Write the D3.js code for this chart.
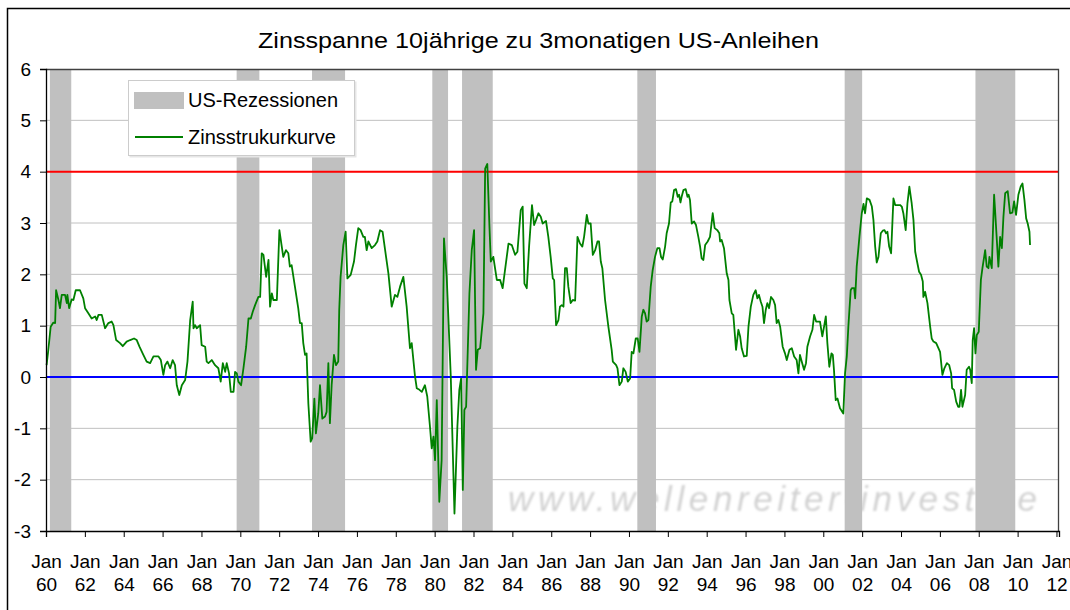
<!DOCTYPE html>
<meta charset="utf-8">
<html>
<head>
<script src="https://d3js.org/d3.v7.min.js"></script>
<style>
  body { margin: 0; background: #fff; }
  svg text { font-family: Arial, "Liberation Sans", sans-serif; fill: #000; }
</style>
</head>
<body>
<div id="chart"></div>
<script>

// ---- data ----
var title = "Zinsspanne 10jährige zu 3monatigen US-Anleihen";

// decimal years of each reading
var years = [
  1960.03,1960.12,1960.24,1960.38,1960.47,1960.52,1960.64,1960.72,1960.81,1960.98,1961.07,1961.10,1961.19,1961.32,1961.41,1961.53,1961.75,1961.92,
  1962.01,1962.18,1962.35,1962.53,1962.61,1962.70,1962.87,1963.04,1963.21,1963.38,1963.47,1963.61,1963.81,1963.95,1964.15,1964.33,1964.53,1964.67,1964.81,
  1965.01,1965.18,1965.36,1965.53,1965.79,1965.91,1966.04,1966.13,1966.25,1966.39,1966.52,1966.64,1966.73,1966.86,1966.99,1967.16,1967.28,1967.42,1967.55,
  1967.59,1967.67,1967.76,1967.93,1968.01,1968.19,1968.27,1968.36,1968.53,1968.70,1968.87,1968.99,1969.10,1969.22,1969.30,1969.42,1969.51,1969.65,1969.73,
  1969.82,1969.90,1970.04,1970.16,1970.30,1970.42,1970.54,1970.64,1970.76,1970.93,1971.02,1971.10,1971.19,1971.33,1971.45,1971.53,1971.62,1971.70,1971.88,
  1972.01,1972.21,1972.35,1972.47,1972.55,1972.64,1972.81,1972.98,1973.07,1973.16,1973.24,1973.33,1973.41,1973.50,1973.62,1973.70,1973.81,1973.89,
  1974.01,1974.10,1974.22,1974.36,1974.44,1974.53,1974.61,1974.70,1974.82,1974.92,1975.04,1975.09,1975.16,1975.30,1975.42,1975.51,1975.68,1975.85,1975.95,
  1976.07,1976.19,1976.33,1976.41,1976.50,1976.59,1976.76,1976.93,1977.05,1977.19,1977.32,1977.50,1977.62,1977.79,1977.96,1978.08,1978.22,1978.39,1978.56,
  1978.73,1978.82,1978.99,1979.08,1979.22,1979.34,1979.50,1979.62,1979.76,1979.85,1979.94,1980.02,1980.11,1980.24,1980.36,1980.48,1980.62,1980.83,
  1981.02,1981.17,1981.27,1981.36,1981.45,1981.53,1981.62,1981.79,1981.91,1982.03,1982.13,1982.22,1982.34,1982.51,1982.60,1982.71,1982.82,1982.89,
  1983.02,1983.20,1983.37,1983.50,1983.80,1983.97,1984.14,1984.26,1984.43,1984.53,1984.62,1984.74,1984.86,1985.01,1985.12,1985.22,1985.34,1985.46,
  1985.56,1985.73,1985.85,1985.97,1986.08,1986.15,1986.25,1986.37,1986.45,1986.54,1986.63,1986.71,1986.80,1986.88,1987.00,1987.11,1987.23,1987.35,
  1987.48,1987.60,1987.69,1987.83,1987.91,1988.03,1988.14,1988.26,1988.38,1988.46,1988.55,1988.63,1988.77,1988.94,1989.11,1989.17,1989.34,1989.41,
  1989.51,1989.63,1989.71,1989.83,1989.94,1990.06,1990.14,1990.23,1990.35,1990.45,1990.54,1990.66,1990.74,1990.83,1990.91,1991.00,1991.12,1991.22,
  1991.34,1991.46,1991.57,1991.65,1991.74,1991.86,1991.94,1992.06,1992.15,1992.23,1992.32,1992.42,1992.51,1992.58,1992.65,1992.71,1992.80,1992.92,
  1993.01,1993.07,1993.14,1993.23,1993.35,1993.45,1993.57,1993.66,1993.74,1993.83,1993.92,1994.05,1994.17,1994.31,1994.41,1994.55,1994.65,1994.69,
  1994.77,1994.89,1995.03,1995.12,1995.17,1995.29,1995.37,1995.51,1995.63,1995.72,1995.80,1995.92,1996.06,1996.15,1996.27,1996.40,1996.52,1996.61,
  1996.69,1996.78,1996.87,1996.95,1997.04,1997.12,1997.21,1997.31,1997.43,1997.52,1997.60,1997.69,1997.78,1997.91,1998.03,1998.12,1998.26,1998.38,
  1998.50,1998.63,1998.72,1998.80,1998.89,1999.01,1999.11,1999.18,1999.32,1999.44,1999.53,1999.63,1999.83,1999.95,2000.04,2000.13,2000.21,2000.31,
  2000.42,2000.49,2000.55,2000.64,2000.73,2000.86,2001.03,2001.12,2001.21,2001.29,2001.41,2001.47,2001.59,2001.64,2001.72,2001.86,2001.98,2002.07,
  2002.15,2002.24,2002.38,2002.50,2002.58,2002.67,2002.75,2002.84,2002.96,2003.06,2003.15,2003.23,2003.30,2003.39,2003.49,2003.61,2003.70,2003.82,
  2003.95,2004.04,2004.12,2004.24,2004.33,2004.43,2004.55,2004.64,2004.73,2004.81,2004.93,2005.03,2005.12,2005.15,2005.24,2005.36,2005.50,2005.58,
  2005.67,2005.81,2005.89,2006.01,2006.13,2006.23,2006.36,2006.48,2006.58,2006.63,2006.73,2006.84,2006.94,2007.01,2007.09,2007.16,2007.30,2007.38,
  2007.50,2007.56,2007.64,2007.69,2007.76,2007.83,2007.90,2008.00,2008.11,2008.19,2008.33,2008.41,2008.50,2008.55,2008.67,2008.79,2008.84,2008.93,
  2009.01,2009.10,2009.19,2009.27,2009.36,2009.49,2009.61,2009.73,2009.82,2009.92,2010.04,2010.16,2010.25,2010.35,2010.44,2010.52,2010.61,2010.64
];

// spread 10y minus 3m, percentage points
var spread = [
  0.23,0.53,0.98,1.06,1.05,1.69,1.50,1.34,1.60,1.60,1.44,1.60,1.34,1.51,1.50,1.69,1.69,1.53,
  1.34,1.24,1.14,1.18,1.11,1.21,1.21,0.95,1.05,1.08,1.01,0.72,0.66,0.60,0.69,0.72,0.75,0.72,0.59,
  0.43,0.30,0.27,0.40,0.40,0.33,0.04,0.23,0.30,0.17,0.33,0.23,-0.16,-0.35,-0.16,-0.06,0.30,1.11,1.47,
  0.95,1.01,0.95,1.01,0.62,0.59,0.30,0.27,0.33,0.23,0.17,-0.09,0.27,0.10,0.27,0.07,-0.29,-0.29,0.10,
  0.07,-0.09,-0.16,0.17,0.59,1.14,1.14,1.27,1.40,1.56,1.56,2.41,2.38,1.95,2.28,1.37,1.63,1.50,1.50,
  2.86,2.34,2.47,2.41,2.15,2.18,1.76,1.34,1.05,1.05,0.66,0.43,0.46,-0.51,-1.26,-1.19,-0.42,-1.10,
  -0.71,-0.16,-0.81,-0.77,-0.68,0.27,-0.90,-0.16,0.43,0.23,0.30,1.31,1.95,2.57,2.83,1.92,1.99,2.25,2.57,
  2.90,2.86,2.73,2.73,2.47,2.64,2.51,2.57,2.64,2.86,2.83,2.34,2.02,1.37,1.60,1.56,1.76,1.95,1.37,
  0.56,0.66,0.01,-0.22,-0.25,-0.29,-0.16,-0.38,-0.97,-1.39,-1.16,-1.62,-0.45,-2.43,-1.62,2.70,1.95,0.01,
  -2.66,-0.97,-0.25,-0.03,-2.20,-0.64,-0.58,1.63,2.47,2.86,0.14,0.53,0.56,1.24,4.06,4.15,2.93,2.25,
  2.34,1.89,1.89,1.73,2.60,2.57,2.38,2.44,3.25,3.32,1.82,1.73,2.54,3.35,2.96,3.06,3.19,3.12,
  2.99,3.04,2.73,2.34,1.92,1.89,1.01,1.11,1.37,1.40,1.37,2.12,2.12,1.76,1.44,1.50,1.49,2.73,
  2.60,2.54,2.73,3.16,2.99,2.99,2.38,2.47,2.64,2.64,2.25,2.12,1.50,0.98,0.53,0.30,0.23,0.17,
  -0.16,-0.09,0.17,0.10,-0.09,-0.03,0.49,0.46,0.75,0.75,0.49,1.18,1.31,1.24,1.08,1.11,1.76,2.08,
  2.34,2.51,2.51,2.34,2.29,2.54,2.80,2.99,3.40,3.42,3.64,3.66,3.51,3.55,3.40,3.51,3.64,3.66,
  3.51,3.55,3.45,2.99,3.03,2.96,2.73,2.54,2.31,2.28,2.57,2.64,2.73,3.19,2.90,2.86,2.80,2.64,
  2.67,2.51,2.02,1.89,1.50,1.24,1.21,0.53,0.92,0.79,0.56,0.40,0.41,0.98,1.37,1.60,1.69,1.53,
  1.60,1.47,1.37,1.05,1.31,1.44,1.34,1.56,1.50,1.40,1.05,1.11,0.98,0.59,0.46,0.33,0.53,0.56,
  0.40,0.33,0.07,0.43,0.30,0.14,0.27,0.59,0.79,0.92,1.21,1.08,1.08,0.79,0.98,1.18,0.66,0.20,
  0.46,0.43,0.14,-0.45,-0.42,-0.61,-0.71,0.07,0.40,0.98,1.69,1.73,1.73,1.53,2.15,2.73,3.19,3.37,
  3.19,3.48,3.45,3.32,3.06,2.54,2.23,2.34,2.80,2.85,2.86,2.80,2.83,2.54,2.41,3.48,3.35,3.35,
  3.35,3.32,3.19,2.86,3.38,3.71,3.38,3.06,2.44,2.28,2.05,1.99,1.86,1.56,1.66,1.44,0.98,0.75,
  0.69,0.66,0.59,0.49,0.04,0.17,0.27,0.23,0.07,-0.22,-0.25,-0.48,-0.58,-0.58,-0.25,-0.58,-0.35,0.14,
  0.20,0.14,-0.12,0.72,0.95,0.46,0.82,0.88,1.89,2.12,2.47,2.15,2.12,2.34,2.12,3.55,3.25,2.67,
  2.15,2.73,2.51,3.12,3.58,3.62,3.19,3.20,3.42,3.16,3.55,3.71,3.77,3.45,3.09,2.99,2.83,2.57
];

// US recessions as shaded bands (decimal years)
var recessionStart = [1960.20, 1969.81, 1973.69, 1979.88, 1981.41, 1990.43, 2001.10, 2007.83];
var recessionEnd   = [1961.30, 1970.98, 1975.39, 1980.69, 1982.99, 1991.39, 2002.00, 2009.88];

var yTicks = [-3, -2, -1, 0, 1, 2, 3, 4, 5, 6];
var xTickYears = d3.range(1960, 2013, 2);
var upperLevel = 4, lowerLevel = 0;
var legendLabels = ["US-Rezessionen", "Zinsstrukurkurve"];

// ---- layout ----
var W = 1070, H = 610;
var margin = {top: 69, right: 11, bottom: 79, left: 46};
var width = W - margin.left - margin.right,
    height = H - margin.top - margin.bottom;

var svg = d3.select("#chart").append("svg")
    .attr("width", W).attr("height", H);

// blur for the watermark
svg.append("defs").append("filter").attr("id", "soft")
  .append("feGaussianBlur").attr("stdDeviation", 0.8);

// outer frame of the picture
svg.append("rect")
    .attr("x", 7.5).attr("y", 8.5)
    .attr("width", W + 20).attr("height", H + 20)
    .attr("fill", "#fff").attr("stroke", "#000").attr("stroke-width", 1.5);

svg.append("text")
    .attr("x", 258).attr("y", 48)
    .attr("textLength", 561).attr("lengthAdjust", "spacingAndGlyphs")
    .style("font-size", "22px")
    .text(title);

var g = svg.append("g")
    .attr("transform", "translate(" + margin.left + "," + margin.top + ")");

var x = d3.scaleLinear().domain([1960, 2012.13]).range([0, width]);
var y = d3.scaleLinear().domain([-3, 6]).range([height, 0]);

// watermark
g.append("text")
    .attr("x", 462).attr("y", 442)
    .attr("textLength", 529).attr("lengthAdjust", "spacing")
    .style("font-size", "35px").style("font-style", "italic")
    .style("fill", "#d2d2d2")
    .attr("filter", "url(#soft)")
    .text("www.wellenreiter-invest.de");

// grid
g.append("g").selectAll("line")
  .data(yTicks.filter(function(d){ return d > -3 && d < 6; }))
  .enter().append("line")
    .attr("x1", 0).attr("x2", width)
    .attr("y1", function(d){ return y(d); })
    .attr("y2", function(d){ return y(d); })
    .attr("stroke", "#c0c0c0").attr("stroke-width", 1);

// recession bars
g.append("g").selectAll("rect")
  .data(recessionStart)
  .enter().append("rect")
    .attr("x", function(d){ return x(d); })
    .attr("width", function(d, i){ return x(recessionEnd[i]) - x(d); })
    .attr("y", 0).attr("height", height)
    .attr("fill", "#c0c0c0");

// reference lines
g.append("line")
    .attr("x1", 0).attr("x2", width)
    .attr("y1", y(upperLevel)).attr("y2", y(upperLevel))
    .attr("stroke", "#ff0000").attr("stroke-width", 2);
g.append("line")
    .attr("x1", 0).attr("x2", width)
    .attr("y1", y(lowerLevel)).attr("y2", y(lowerLevel))
    .attr("stroke", "#0000ff").attr("stroke-width", 2);

// the spread curve
var line = d3.line()
    .x(function(d){ return x(d[0]); })
    .y(function(d){ return y(d[1]); });
g.append("path")
    .datum(years.map(function(d, i){ return [d, spread[i]]; }))
    .attr("d", line)
    .attr("fill", "none")
    .attr("stroke", "#008000")
    .attr("stroke-width", 1.8)
    .attr("stroke-linejoin", "round");

// plot frame (top / right)
g.append("path")
    .attr("d", "M0,0.5H" + (width - 0.5) + "V" + height)
    .attr("fill", "none").attr("stroke", "#404040").attr("stroke-width", 1.3);

// y axis
var yAxis = g.append("g")
    .call(d3.axisLeft(y).tickValues(yTicks).tickSize(6).tickPadding(9)
      .tickFormat(function(d){ return String(d); }));
yAxis.select(".domain").attr("stroke", "#000").attr("stroke-width", 1.3);
yAxis.selectAll("text").style("font-size", "19px").attr("fill", "#000")
    .style("font-family", "Arial, 'Liberation Sans', sans-serif");

// x axis
var xAxis = g.append("g")
    .attr("transform", "translate(0," + height + ")")
    .call(d3.axisBottom(x).tickValues(xTickYears).tickSize(6).tickFormat(""));
xAxis.select(".domain").attr("stroke", "#000").attr("stroke-width", 1.3);

xAxis.selectAll(".tick").each(function(d){
  var t = d3.select(this).append("text")
      .attr("text-anchor", "middle")
      .attr("fill", "#000")
      .style("font-size", "19px")
      .style("font-family", "Arial, 'Liberation Sans', sans-serif");
  t.append("tspan").attr("x", 0).attr("y", 37).text("Jan");
  t.append("tspan").attr("x", 0).attr("y", 60).text(String(d % 100).padStart(2, "0"));
});

// legend
var legend = svg.append("g").attr("transform", "translate(128,80)");
legend.append("rect")
    .attr("x", 1.5).attr("y", 1.5).attr("width", 227).attr("height", 76)
    .attr("fill", "#e6e6e6");
legend.append("rect")
    .attr("x", 0.5).attr("y", 0.5).attr("width", 226).attr("height", 75)
    .attr("fill", "#fff").attr("stroke", "#cccccc");
legend.append("rect")
    .attr("x", 6).attr("y", 12).attr("width", 50).attr("height", 17)
    .attr("fill", "#c0c0c0");
legend.append("line")
    .attr("x1", 7).attr("x2", 55).attr("y1", 57).attr("y2", 57)
    .attr("stroke", "#008000").attr("stroke-width", 2);
legend.selectAll("text.lbl")
  .data(legendLabels)
  .enter().append("text")
    .attr("class", "lbl")
    .attr("x", 60)
    .attr("y", function(d, i){ return 27 + i * 37; })
    .style("font-size", "20px")
    .text(function(d){ return d; });

</script>
</body>
</html>
